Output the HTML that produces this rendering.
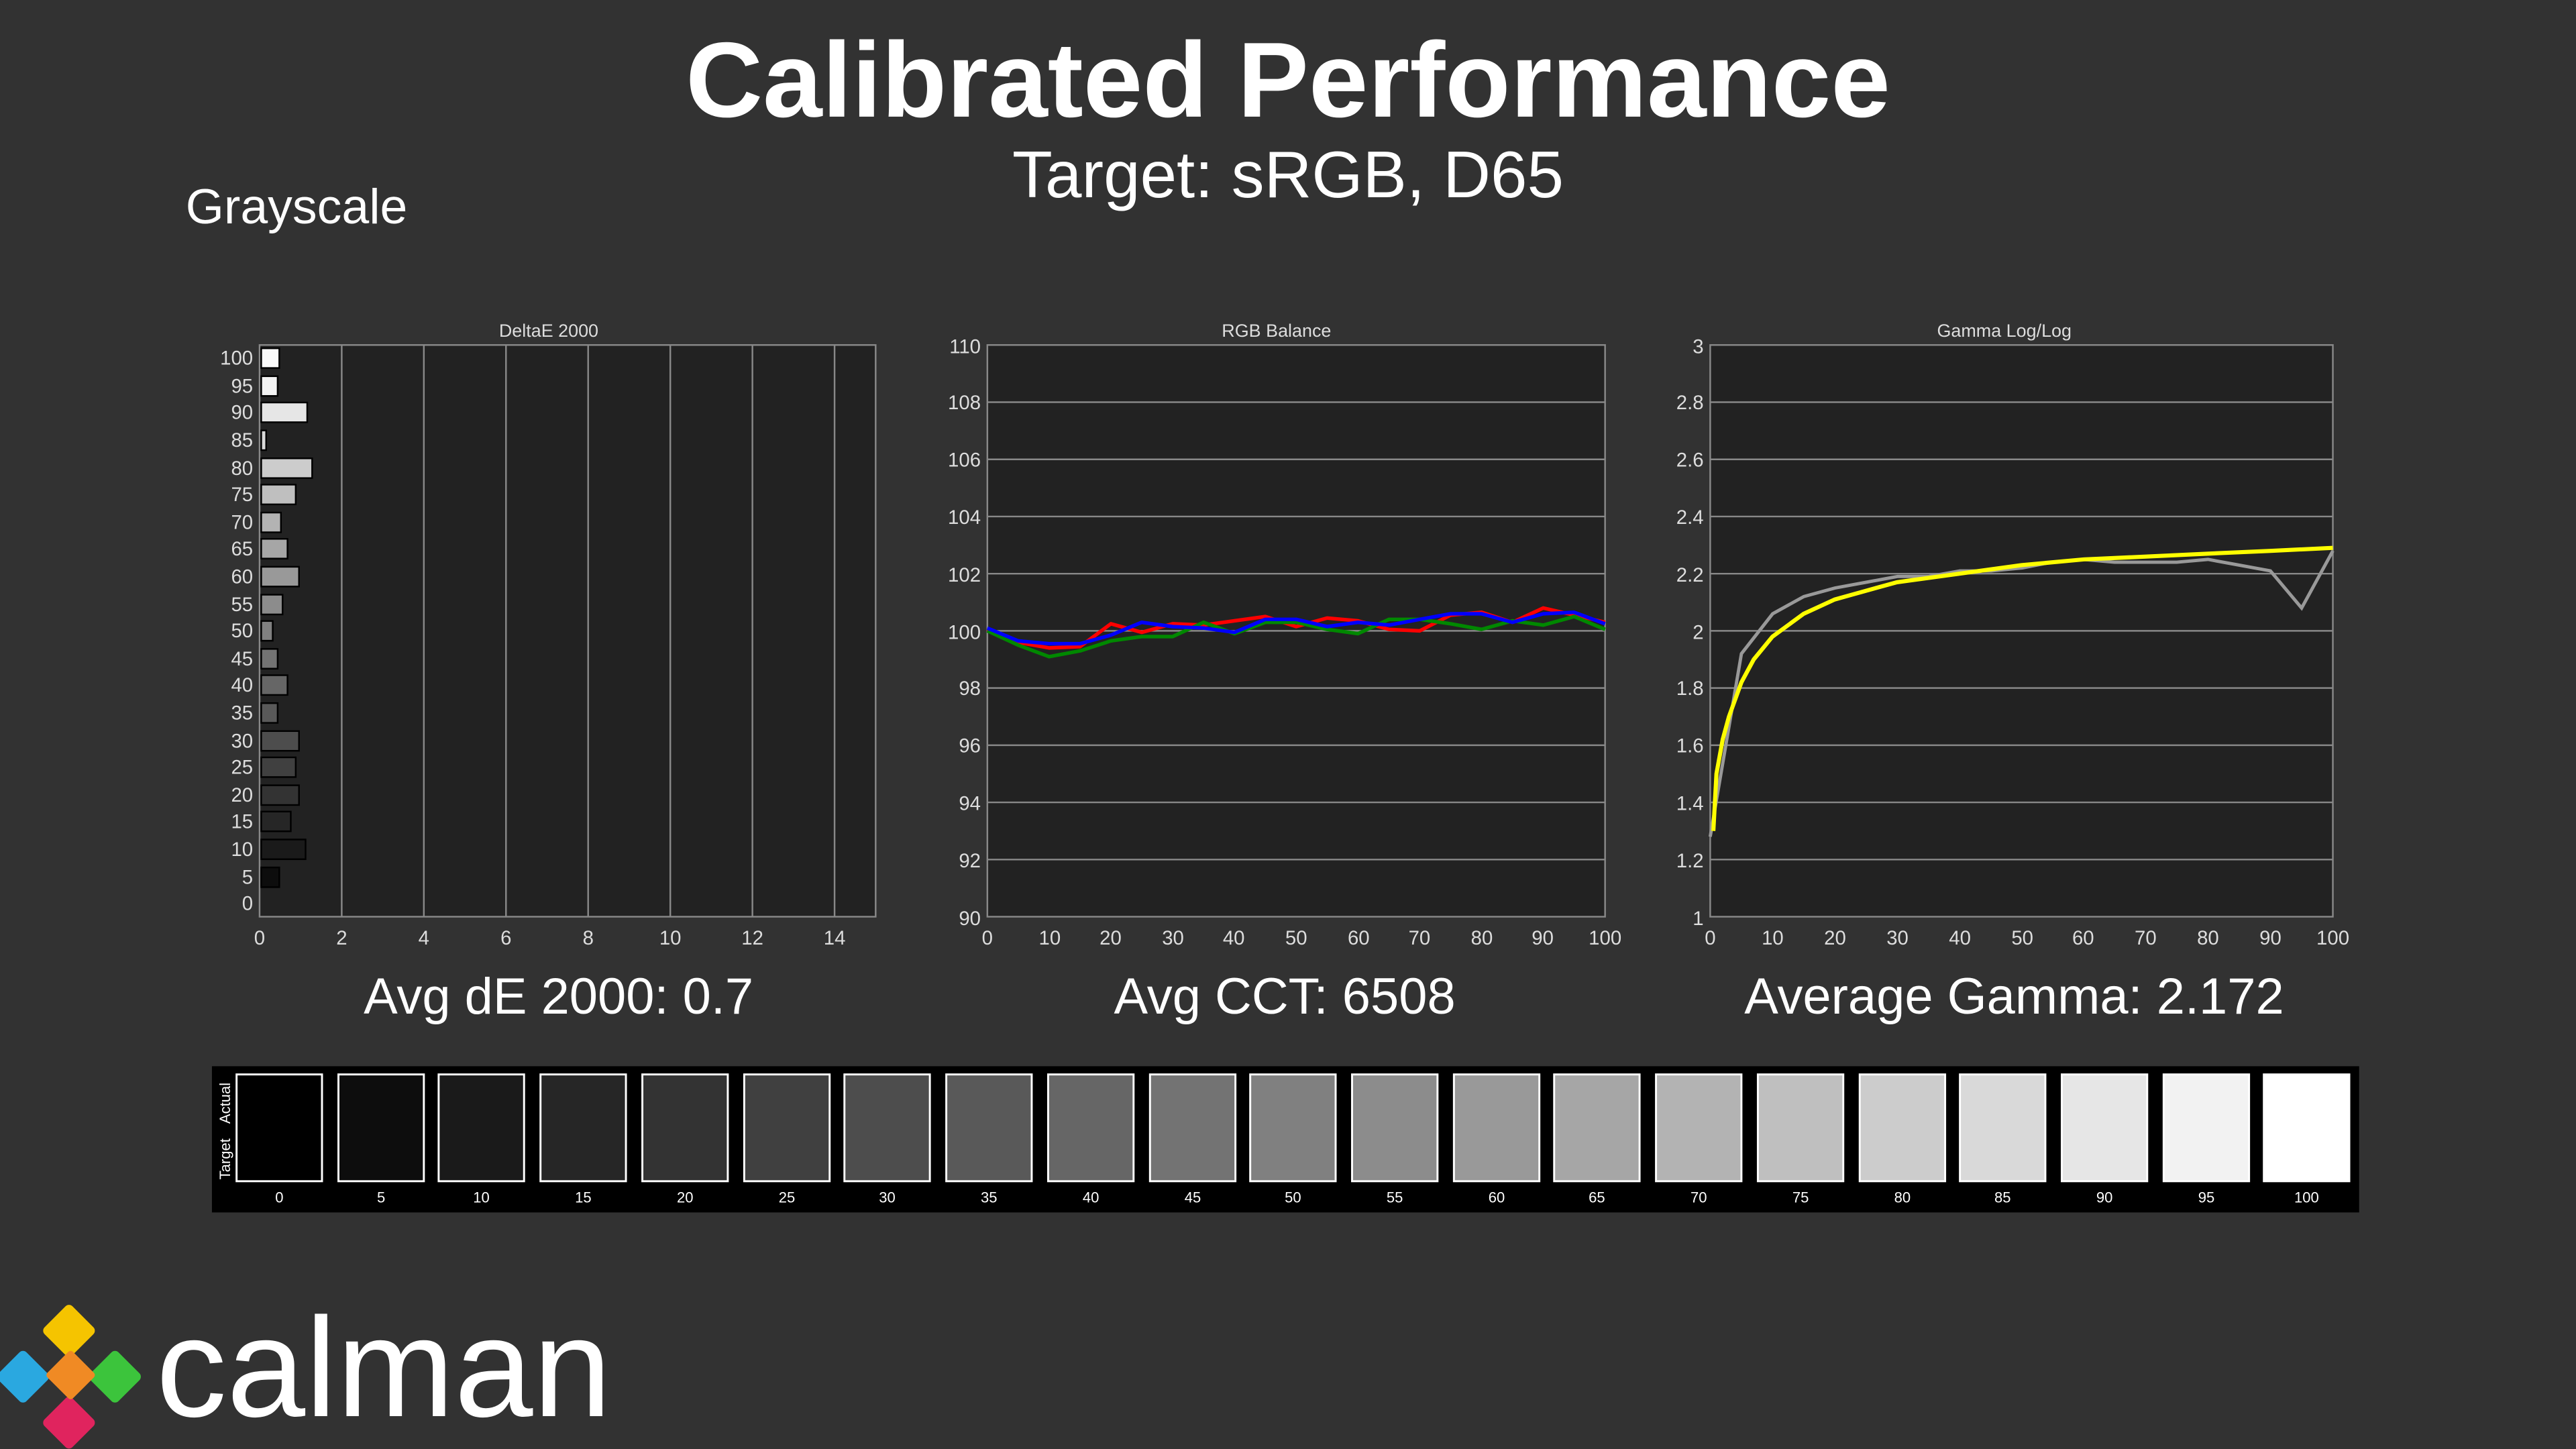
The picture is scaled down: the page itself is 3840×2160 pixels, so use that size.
<!DOCTYPE html>
<html><head><meta charset="utf-8"><style>
html,body{margin:0;padding:0;background:#323232;}
svg{display:block;}
text{font-family:"Liberation Sans",sans-serif;}
</style></head><body>
<svg width="3840" height="2160" viewBox="0 0 1568 882" xmlns="http://www.w3.org/2000/svg">
<rect width="1568" height="882" fill="#323232"/>
<text x="784" y="71" font-size="65" font-weight="bold" fill="#fff" text-anchor="middle">Calibrated Performance</text>
<text x="784" y="120" font-size="40" fill="#fff" text-anchor="middle">Target: sRGB, D65</text>
<text x="113" y="136" font-size="30" fill="#fff">Grayscale</text>

<!-- DeltaE -->
<text x="334" y="205" font-size="11" fill="#ddd" text-anchor="middle">DeltaE 2000</text>
<rect x="158" y="210" width="375" height="348" fill="#222" stroke="#888" stroke-width="1"/>
<g stroke="#888" stroke-width="1">
<line x1="208" y1="210" x2="208" y2="558"/><line x1="258" y1="210" x2="258" y2="558"/><line x1="308" y1="210" x2="308" y2="558"/><line x1="358" y1="210" x2="358" y2="558"/><line x1="408" y1="210" x2="408" y2="558"/><line x1="458" y1="210" x2="458" y2="558"/><line x1="508" y1="210" x2="508" y2="558"/>
</g>
<g font-size="12" fill="#ddd" text-anchor="middle">
<text x="158" y="575">0</text><text x="208" y="575">2</text><text x="258" y="575">4</text><text x="308" y="575">6</text><text x="358" y="575">8</text><text x="408" y="575">10</text><text x="458" y="575">12</text><text x="508" y="575">14</text>
</g>
<g font-size="12" fill="#ddd" text-anchor="end">
<text x="154" y="222">100</text><text x="154" y="239">95</text><text x="154" y="255">90</text><text x="154" y="272">85</text><text x="154" y="289">80</text><text x="154" y="305">75</text><text x="154" y="322">70</text><text x="154" y="338">65</text><text x="154" y="355">60</text><text x="154" y="372">55</text><text x="154" y="388">50</text><text x="154" y="405">45</text><text x="154" y="421">40</text><text x="154" y="438">35</text><text x="154" y="455">30</text><text x="154" y="471">25</text><text x="154" y="488">20</text><text x="154" y="504">15</text><text x="154" y="521">10</text><text x="154" y="538">5</text><text x="154" y="554">0</text>
</g>
<g stroke="#000" stroke-width="1">
<rect x="159" y="212" width="11" height="12" fill="#fafafa"/>
<rect x="159" y="229" width="10" height="12" fill="#f2f2f2"/>
<rect x="159" y="245" width="28" height="12" fill="#e6e6e6"/>
<rect x="159" y="262" width="3" height="12" fill="#d9d9d9"/>
<rect x="159" y="279" width="31" height="12" fill="#cccccc"/>
<rect x="159" y="295" width="21" height="12" fill="#bfbfbf"/>
<rect x="159" y="312" width="12" height="12" fill="#b3b3b3"/>
<rect x="159" y="328" width="16" height="12" fill="#a6a6a6"/>
<rect x="159" y="345" width="23" height="12" fill="#999"/>
<rect x="159" y="362" width="13" height="12" fill="#8c8c8c"/>
<rect x="159" y="378" width="7" height="12" fill="#808080"/>
<rect x="159" y="395" width="10" height="12" fill="#737373"/>
<rect x="159" y="411" width="16" height="12" fill="#666"/>
<rect x="159" y="428" width="10" height="12" fill="#595959"/>
<rect x="159" y="445" width="23" height="12" fill="#4d4d4d"/>
<rect x="159" y="461" width="21" height="12" fill="#404040"/>
<rect x="159" y="478" width="23" height="12" fill="#333"/>
<rect x="159" y="494" width="18" height="12" fill="#262626"/>
<rect x="159" y="511" width="27" height="12" fill="#1a1a1a"/>
<rect x="159" y="528" width="11" height="12" fill="#0d0d0d"/>
</g>
<text x="340" y="617" font-size="31" fill="#fff" text-anchor="middle">Avg dE 2000: 0.7</text>

<!-- RGB Balance -->
<text x="777" y="205" font-size="11" fill="#ddd" text-anchor="middle">RGB Balance</text>
<rect x="601" y="210" width="376" height="348" fill="#222" stroke="#888"/>
<g stroke="#888" stroke-width="1">
<line x1="601" y1="244.8" x2="977" y2="244.8"/><line x1="601" y1="279.6" x2="977" y2="279.6"/><line x1="601" y1="314.4" x2="977" y2="314.4"/><line x1="601" y1="349.2" x2="977" y2="349.2"/><line x1="601" y1="384" x2="977" y2="384"/><line x1="601" y1="418.8" x2="977" y2="418.8"/><line x1="601" y1="453.6" x2="977" y2="453.6"/><line x1="601" y1="488.4" x2="977" y2="488.4"/><line x1="601" y1="523.2" x2="977" y2="523.2"/>
</g>
<g font-size="12" fill="#ddd" text-anchor="end">
<text x="597" y="215">110</text><text x="597" y="249">108</text><text x="597" y="284">106</text><text x="597" y="319">104</text><text x="597" y="354">102</text><text x="597" y="389">100</text><text x="597" y="423">98</text><text x="597" y="458">96</text><text x="597" y="493">94</text><text x="597" y="528">92</text><text x="597" y="563">90</text>
</g>
<g font-size="12" fill="#ddd" text-anchor="middle">
<text x="601" y="575">0</text><text x="639" y="575">10</text><text x="676" y="575">20</text><text x="714" y="575">30</text><text x="751" y="575">40</text><text x="789" y="575">50</text><text x="827" y="575">60</text><text x="864" y="575">70</text><text x="902" y="575">80</text><text x="939" y="575">90</text><text x="977" y="575">100</text>
</g>
<g fill="none" stroke-width="2.2" stroke-linejoin="round">
<polyline stroke="#f00" points="601,383.1 619.8,391 638.6,394.4 657.4,393.6 676.2,379.7 695,384.9 713.8,379.7 732.6,380.5 751.4,377.9 770.2,375.3 789,381.4 807.8,376.2 826.6,377.9 845.4,383.1 864.2,384 883,374.4 901.8,372.7 920.6,378.8 939.4,370.1 958.2,374.4 977,378.8"/>
<polyline stroke="#080" points="601,384 619.8,392.7 638.6,399.7 657.4,396.2 676.2,390.1 695,387.5 713.8,387.5 732.6,378.8 751.4,385.7 770.2,378.8 789,378.8 807.8,383.1 826.6,385.7 845.4,377 864.2,377 883,379.7 901.8,383.1 920.6,377.9 939.4,380.5 958.2,375.3 977,383.1"/>
<polyline stroke="#00f" points="601,382.3 619.8,390.1 638.6,391.8 657.4,391.8 676.2,386.6 695,378.8 713.8,381.4 732.6,382.3 751.4,384.9 770.2,377 789,377 807.8,381.4 826.6,378.8 845.4,380.5 864.2,377 883,373.6 901.8,373.6 920.6,378.8 939.4,373.6 958.2,372.7 977,379.7"/>
</g>
<text x="782" y="617" font-size="31" fill="#fff" text-anchor="middle">Avg CCT: 6508</text>

<!-- Gamma -->
<text x="1220" y="205" font-size="11" fill="#ddd" text-anchor="middle">Gamma Log/Log</text>
<rect x="1041" y="210" width="379" height="348" fill="#222" stroke="#888"/>
<g stroke="#888" stroke-width="1">
<line x1="1041" y1="244.8" x2="1420" y2="244.8"/><line x1="1041" y1="279.6" x2="1420" y2="279.6"/><line x1="1041" y1="314.4" x2="1420" y2="314.4"/><line x1="1041" y1="349.2" x2="1420" y2="349.2"/><line x1="1041" y1="384" x2="1420" y2="384"/><line x1="1041" y1="418.8" x2="1420" y2="418.8"/><line x1="1041" y1="453.6" x2="1420" y2="453.6"/><line x1="1041" y1="488.4" x2="1420" y2="488.4"/><line x1="1041" y1="523.2" x2="1420" y2="523.2"/>
</g>
<g font-size="12" fill="#ddd" text-anchor="end">
<text x="1037" y="215">3</text><text x="1037" y="249">2.8</text><text x="1037" y="284">2.6</text><text x="1037" y="319">2.4</text><text x="1037" y="354">2.2</text><text x="1037" y="389">2</text><text x="1037" y="423">1.8</text><text x="1037" y="458">1.6</text><text x="1037" y="493">1.4</text><text x="1037" y="528">1.2</text><text x="1037" y="563">1</text>
</g>
<g font-size="12" fill="#ddd" text-anchor="middle">
<text x="1041" y="575">0</text><text x="1079" y="575">10</text><text x="1117" y="575">20</text><text x="1155" y="575">30</text><text x="1193" y="575">40</text><text x="1231" y="575">50</text><text x="1268" y="575">60</text><text x="1306" y="575">70</text><text x="1344" y="575">80</text><text x="1382" y="575">90</text><text x="1420" y="575">100</text>
</g>
<polyline fill="none" stroke="#999" stroke-width="2" points="1041,509.3 1060,397.9 1079,373.6 1098,363.1 1117,357.9 1136,354.4 1155,350.9 1174,350.9 1193,347.5 1212,347.5 1231,345.7 1249,342.2 1268,340.5 1287,342.2 1306,342.2 1325,342.2 1344,340.5 1363,344 1382,347.5 1401,370.1 1420,335.3"/>
<polyline fill="none" stroke="#ff0" stroke-width="2.5" points="1042.9,505.8 1044.8,471 1048.6,450.1 1052.4,436.2 1060,415.3 1067.5,401.4 1078.9,387.5 1097.9,373.6 1116.8,364.9 1135.8,359.6 1154.7,354.4 1192.6,349.2 1230.5,344 1268.4,340.5 1306.3,338.8 1344.2,337 1382.1,335.3 1420,333.5"/>
<text x="1226" y="617" font-size="31" fill="#fff" text-anchor="middle">Average Gamma: 2.172</text>

<!-- Swatches -->
<rect x="129" y="649" width="1307" height="89" fill="#000"/>
<text transform="translate(140,718) rotate(-90)" font-size="9" fill="#fff">Target</text>
<text transform="translate(140,684) rotate(-90)" font-size="9" fill="#fff">Actual</text>
<g stroke="#fff" stroke-width="1.2">
<rect x="144" y="654" width="52" height="65" fill="#000"/>
<rect x="206" y="654" width="52" height="65" fill="#0d0d0d"/>
<rect x="267" y="654" width="52" height="65" fill="#1a1a1a"/>
<rect x="329" y="654" width="52" height="65" fill="#262626"/>
<rect x="391" y="654" width="52" height="65" fill="#333"/>
<rect x="453" y="654" width="52" height="65" fill="#404040"/>
<rect x="514" y="654" width="52" height="65" fill="#4d4d4d"/>
<rect x="576" y="654" width="52" height="65" fill="#595959"/>
<rect x="638" y="654" width="52" height="65" fill="#666"/>
<rect x="700" y="654" width="52" height="65" fill="#737373"/>
<rect x="761" y="654" width="52" height="65" fill="#808080"/>
<rect x="823" y="654" width="52" height="65" fill="#8c8c8c"/>
<rect x="885" y="654" width="52" height="65" fill="#999"/>
<rect x="946" y="654" width="52" height="65" fill="#a6a6a6"/>
<rect x="1008" y="654" width="52" height="65" fill="#b3b3b3"/>
<rect x="1070" y="654" width="52" height="65" fill="#bfbfbf"/>
<rect x="1132" y="654" width="52" height="65" fill="#cccccc"/>
<rect x="1193" y="654" width="52" height="65" fill="#d9d9d9"/>
<rect x="1255" y="654" width="52" height="65" fill="#e6e6e6"/>
<rect x="1317" y="654" width="52" height="65" fill="#f2f2f2"/>
<rect x="1378" y="654" width="52" height="65" fill="#fff"/>
</g>
<g font-size="9" fill="#fff" text-anchor="middle">
<text x="170" y="732">0</text><text x="232" y="732">5</text><text x="293" y="732">10</text><text x="355" y="732">15</text><text x="417" y="732">20</text><text x="479" y="732">25</text><text x="540" y="732">30</text><text x="602" y="732">35</text><text x="664" y="732">40</text><text x="726" y="732">45</text><text x="787" y="732">50</text><text x="849" y="732">55</text><text x="911" y="732">60</text><text x="972" y="732">65</text><text x="1034" y="732">70</text><text x="1096" y="732">75</text><text x="1158" y="732">80</text><text x="1219" y="732">85</text><text x="1281" y="732">90</text><text x="1343" y="732">95</text><text x="1404" y="732">100</text>
</g>

<!-- Logo -->
<g transform="translate(44,838)">
<rect x="-14" y="-40" width="24" height="24" transform="rotate(45 -2 -28)" fill="#f5c400" rx="3"/>
<rect x="14" y="-12" width="24" height="24" transform="rotate(45 26 0)" fill="#3cc43c" rx="3"/>
<rect x="-14" y="16" width="24" height="24" transform="rotate(45 -2 28)" fill="#e0245e" rx="3"/>
<rect x="-42" y="-12" width="24" height="24" transform="rotate(45 -30 0)" fill="#2aa8e0" rx="3"/>
<rect x="-12" y="-12" width="22" height="22" transform="rotate(45 -1 -1)" fill="#f08a24" rx="2"/>
</g>
<text x="95" y="862" font-size="86" fill="#fff">calman</text>
</svg>
</body></html>
